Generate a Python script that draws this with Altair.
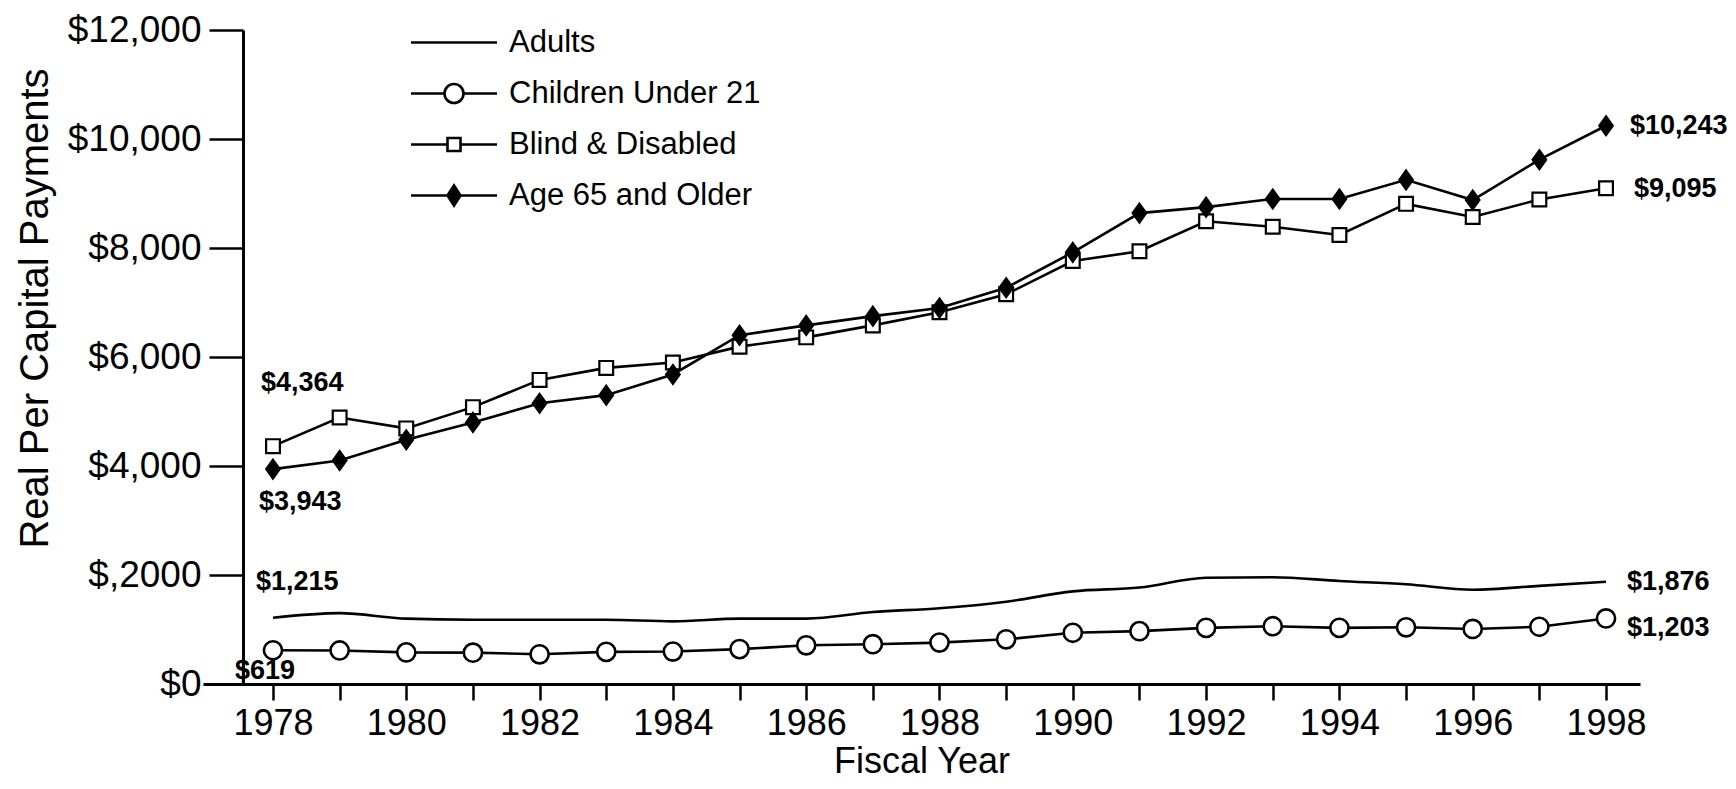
import altair as alt
import pandas as pd

FONT = "Liberation Sans"

years = list(range(1978, 1999))
adults = [1215, 1300, 1200, 1180, 1180, 1180, 1150, 1200, 1200, 1320, 1390,
          1510, 1700, 1770, 1950, 1960, 1890, 1830, 1730, 1800, 1876]
children = [619, 615, 580, 575, 545, 590, 595, 640, 710, 730, 760,
            820, 940, 970, 1030, 1060, 1030, 1040, 1010, 1050, 1203]
blind = [4364, 4890, 4690, 5080, 5580, 5800, 5900, 6190, 6360, 6580, 6820,
         7150, 7760, 7940, 8490, 8390, 8240, 8810, 8570, 8890, 9095]
aged = [3943, 4100, 4480, 4800, 5150, 5300, 5680, 6400, 6580, 6750, 6900,
        7270, 7920, 8640, 8750, 8900, 8900, 9250, 8880, 9620, 10243]
series_names = ["Adults", "Children Under 21", "Blind & Disabled", "Age 65 and Older"]
y_ticks = [0, 2000, 4000, 6000, 8000, 10000, 12000]

rows = []
for name, vals in zip(series_names, [adults, children, blind, aged]):
    for yr, v in zip(years, vals):
        rows.append({"year": yr, "value": v, "series": name})
df = pd.DataFrame(rows)

x_enc = alt.X(
    "year:Q",
    scale=alt.Scale(domain=[1976.95, 1998.51], nice=False, zero=False),
    axis=alt.Axis(
        values=years, format="d",
        labelExpr="datum.value % 2 == 0 ? datum.label : ''",
        tickSize=16, tickWidth=2.5, tickColor="black",
        domainColor="black", domainWidth=3,
        labelFontSize=36, labelFont=FONT, labelColor="black", labelPadding=6,
        labelOverlap=False, labelFlush=False, grid=False,
        title="Fiscal Year", titleFontSize=36, titleFont=FONT,
        titleFontWeight="normal", titleColor="black", titlePadding=3,
    ),
)
y_enc = alt.Y(
    "value:Q",
    scale=alt.Scale(domain=[0, 12000], nice=False),
    axis=alt.Axis(
        values=y_ticks, offset=-40,
        labelExpr="datum.value == 2000 ? '$,2000' : '$' + format(datum.value, ',')",
        tickSize=34, tickWidth=2.5, tickColor="black",
        domainColor="black", domainWidth=3,
        labelFontSize=37, labelFont=FONT, labelColor="black", labelPadding=8,
        labelOverlap=False, labelFlush=False, grid=False,
        title="Real Per Capital Payments", titleFontSize=40, titleFont=FONT,
        titleFontWeight="normal", titleColor="black", titlePadding=12, titleY=278,
    ),
)

base = alt.Chart(df)

lines = base.mark_line(color="black", strokeWidth=2.6).encode(
    x=x_enc, y=y_enc, detail="series:N"
).transform_filter(alt.datum.series != "Adults")

adult_line = base.mark_line(color="black", strokeWidth=2.6, interpolate="monotone").encode(
    x=x_enc, y=y_enc
).transform_filter(alt.datum.series == "Adults")

circles = base.mark_point(shape="circle", size=330, filled=True, fill="white",
                          stroke="black", strokeWidth=2.6, opacity=1).encode(
    x=x_enc, y=y_enc).transform_filter(alt.datum.series == "Children Under 21")
squares = base.mark_point(shape="square", size=190, filled=True, fill="white",
                          stroke="black", strokeWidth=2.2, opacity=1).encode(
    x=x_enc, y=y_enc).transform_filter(alt.datum.series == "Blind & Disabled")
diamonds = base.mark_point(shape="M0,-1L0.72,0L0,1L-0.72,0Z", size=400, filled=True,
                           fill="black", stroke="black", strokeWidth=1.5, opacity=1).encode(
    x=x_enc, y=y_enc).transform_filter(alt.datum.series == "Age 65 and Older")

legend_paths = [
    "M-4.3,0H4.3",
    "M-4.3,0H-0.95M0.95,0H4.3M0.95,0A0.95,0.95 0 1,1 -0.95,0A0.95,0.95 0 1,1 0.95,0Z",
    "M-4.3,0H-0.65M0.65,0H4.3M-0.65,-0.65H0.65V0.65H-0.65Z",
    "M-4.3,0H4.3M0,-1L0.65,0L0,1L-0.65,0Z",
]
legend_fills = ["white", "white", "white", "black"]
legend_strokes = ["black", "black", "black", "black"]

leg = alt.Legend(title=None, orient="none", legendX=235.5, legendY=-3,
                 direction="vertical", symbolSize=400,
                 symbolStrokeWidth=2.6, symbolStrokeColor="black",
                 labelFontSize=31, labelFont=FONT, labelColor="black",
                 labelOffset=39.5, rowPadding=19, padding=0, labelLimit=0)

legend_layer = base.mark_point(filled=True, strokeWidth=2.6, opacity=1, size=400).encode(
    x=x_enc, y=y_enc,
    shape=alt.Shape("series:N", scale=alt.Scale(domain=series_names, range=legend_paths),
                    legend=leg),
    fill=alt.Fill("series:N", scale=alt.Scale(domain=series_names, range=legend_fills),
                  legend=leg),
    stroke=alt.Stroke("series:N", scale=alt.Scale(domain=series_names, range=legend_strokes),
                      legend=leg),
).transform_filter("false")

# annotation offsets (styling only)
offsets = {
    ("Blind & Disabled", 1978): (-12, -63),
    ("Age 65 and Older", 1978): (-14, 33),
    ("Adults", 1978): (-17, -36),
    ("Children Under 21", 1978): (-38, 21),
    ("Age 65 and Older", 1998): (24, 0),
    ("Blind & Disabled", 1998): (28, 1),
    ("Adults", 1998): (21, 0),
    ("Children Under 21", 1998): (21, 10),
}
texts = []
for (s, yr), (dx, dy) in offsets.items():
    t = base.mark_text(align="left", baseline="middle", font=FONT, fontSize=27,
                       fontWeight="bold", color="black", dx=dx, dy=dy).encode(
        x=x_enc, y=y_enc, text=alt.Text("value:Q", format="$,.0f")
    ).transform_filter((alt.datum.series == s) & (alt.datum.year == yr))
    texts.append(t)

chart = alt.layer(lines, adult_line, circles, squares, diamonds, legend_layer, *texts).properties(
    width=1437, height=654,
    autosize=alt.AutoSizeParams(type="none"),
    padding={"left": 195, "top": 22, "right": 88, "bottom": 105},
    background="white",
).configure_view(stroke=None)

chart.save("out.html", embed_options={"renderer": "svg", "actions": False})
